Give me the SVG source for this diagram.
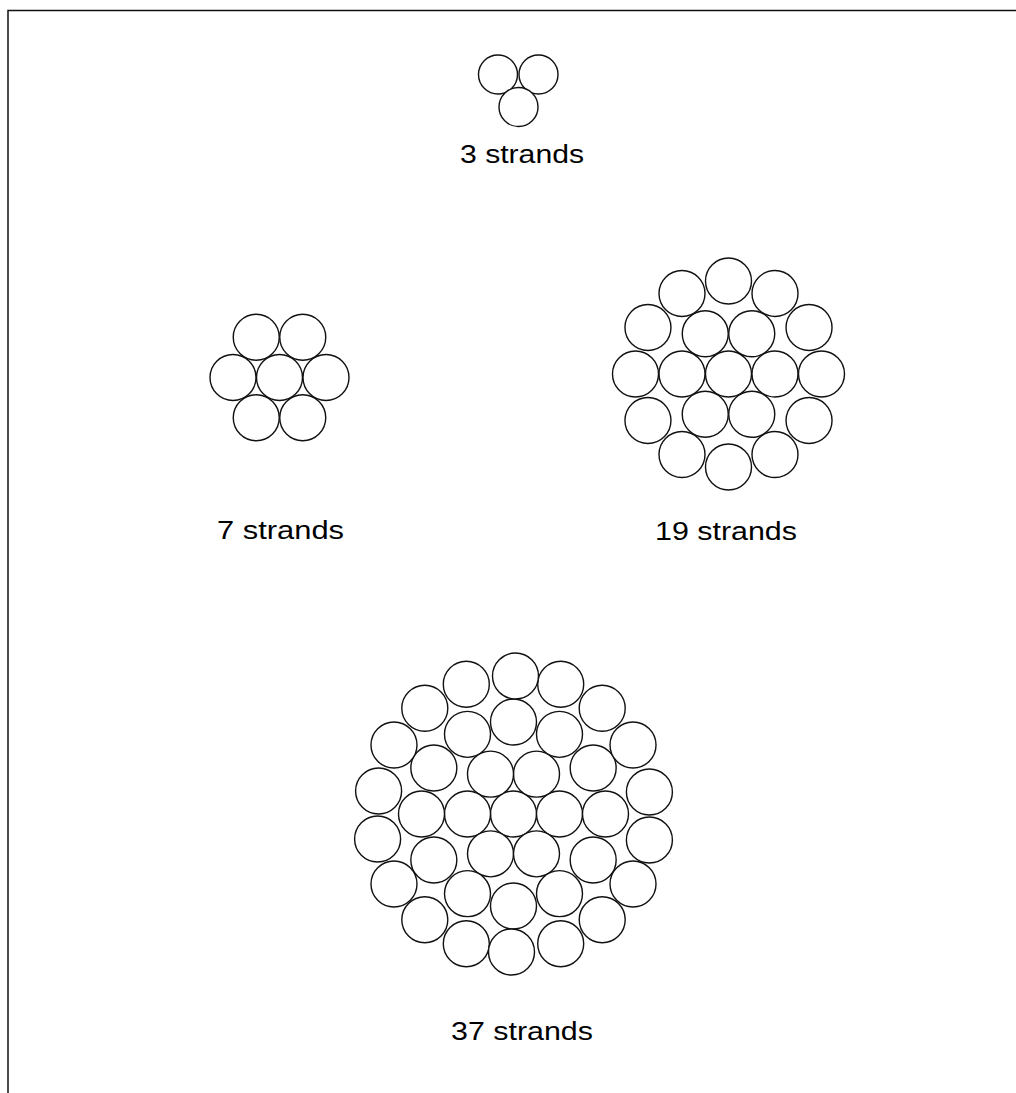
<svg xmlns="http://www.w3.org/2000/svg" xmlns:xlink="http://www.w3.org/1999/xlink" width="1016" height="1093" viewBox="0 0 1016 1093">
<style>
.w{fill:#fff;stroke:#111;stroke-width:1.4}
.frame{fill:none;stroke:#111;stroke-width:1.5}
.lbl{font-family:"Liberation Sans",Arial,Helvetica,sans-serif;font-size:25px;fill:#000}
</style>
<defs>
<circle id="s" class="w" r="23"/>
<circle id="t" class="w" r="19.5"/>
</defs>
<rect width="1016" height="1093" fill="#fff"/>
<path class="frame" d="M8 1093 V10.5 H1016"/>

<g id="strands-3">
<use xlink:href="#t" x="498" y="74.5"/>
<use xlink:href="#t" x="538.5" y="74.5"/>
<use xlink:href="#t" x="518.5" y="107"/>
<text class="lbl" x="460" y="163" textLength="124" lengthAdjust="spacingAndGlyphs">3 strands</text>
</g>

<g id="strands-7">
<use xlink:href="#s" x="279.5" y="377.5"/>
<use xlink:href="#s" x="326" y="377.5"/>
<use xlink:href="#s" x="302.75" y="337.23"/>
<use xlink:href="#s" x="256.25" y="337.23"/>
<use xlink:href="#s" x="233" y="377.5"/>
<use xlink:href="#s" x="256.25" y="417.77"/>
<use xlink:href="#s" x="302.75" y="417.77"/>
<text class="lbl" x="217" y="539" textLength="127" lengthAdjust="spacingAndGlyphs">7 strands</text>
</g>

<g id="strands-19">
<use xlink:href="#s" x="728.5" y="374"/>
<use xlink:href="#s" x="775" y="374"/>
<use xlink:href="#s" x="751.75" y="333.7"/>
<use xlink:href="#s" x="705.25" y="333.7"/>
<use xlink:href="#s" x="682" y="374"/>
<use xlink:href="#s" x="705.25" y="414.3"/>
<use xlink:href="#s" x="751.75" y="414.3"/>
<use xlink:href="#s" x="821.5" y="374"/>
<use xlink:href="#s" x="809.04" y="327.5"/>
<use xlink:href="#s" x="775" y="293.46"/>
<use xlink:href="#s" x="728.5" y="281"/>
<use xlink:href="#s" x="682" y="293.46"/>
<use xlink:href="#s" x="647.96" y="327.5"/>
<use xlink:href="#s" x="635.5" y="374"/>
<use xlink:href="#s" x="647.96" y="420.5"/>
<use xlink:href="#s" x="682" y="454.54"/>
<use xlink:href="#s" x="728.5" y="467"/>
<use xlink:href="#s" x="775" y="454.54"/>
<use xlink:href="#s" x="809.04" y="420.5"/>
<text class="lbl" x="655" y="540" textLength="142" lengthAdjust="spacingAndGlyphs">19 strands</text>
</g>

<g id="strands-37">
<use xlink:href="#s" x="513.5" y="814"/>
<use xlink:href="#s" x="559.5" y="814"/>
<use xlink:href="#s" x="536.5" y="774.16"/>
<use xlink:href="#s" x="490.5" y="774.16"/>
<use xlink:href="#s" x="467.5" y="814"/>
<use xlink:href="#s" x="490.5" y="853.84"/>
<use xlink:href="#s" x="536.5" y="853.84"/>
<use xlink:href="#s" x="605.5" y="814"/>
<use xlink:href="#s" x="593.17" y="768"/>
<use xlink:href="#s" x="559.5" y="734.33"/>
<use xlink:href="#s" x="513.5" y="722"/>
<use xlink:href="#s" x="467.5" y="734.33"/>
<use xlink:href="#s" x="433.83" y="768"/>
<use xlink:href="#s" x="421.5" y="814"/>
<use xlink:href="#s" x="433.83" y="860"/>
<use xlink:href="#s" x="467.5" y="893.67"/>
<use xlink:href="#s" x="513.5" y="906"/>
<use xlink:href="#s" x="559.5" y="893.67"/>
<use xlink:href="#s" x="593.17" y="860"/>
<use xlink:href="#s" x="649.4" y="792"/>
<use xlink:href="#s" x="633.01" y="745"/>
<use xlink:href="#s" x="602.21" y="708.29"/>
<use xlink:href="#s" x="560.7" y="684.32"/>
<use xlink:href="#s" x="515.5" y="676"/>
<use xlink:href="#s" x="466.3" y="684.32"/>
<use xlink:href="#s" x="424.79" y="708.29"/>
<use xlink:href="#s" x="393.99" y="745"/>
<use xlink:href="#s" x="378.6" y="791"/>
<use xlink:href="#s" x="377.6" y="839"/>
<use xlink:href="#s" x="393.99" y="884"/>
<use xlink:href="#s" x="424.79" y="919.71"/>
<use xlink:href="#s" x="466.3" y="943.68"/>
<use xlink:href="#s" x="511.5" y="952"/>
<use xlink:href="#s" x="560.7" y="943.68"/>
<use xlink:href="#s" x="602.21" y="919.71"/>
<use xlink:href="#s" x="633.01" y="884"/>
<use xlink:href="#s" x="649.4" y="840"/>
<text class="lbl" x="451" y="1040" textLength="142" lengthAdjust="spacingAndGlyphs">37 strands</text>
</g>
</svg>
